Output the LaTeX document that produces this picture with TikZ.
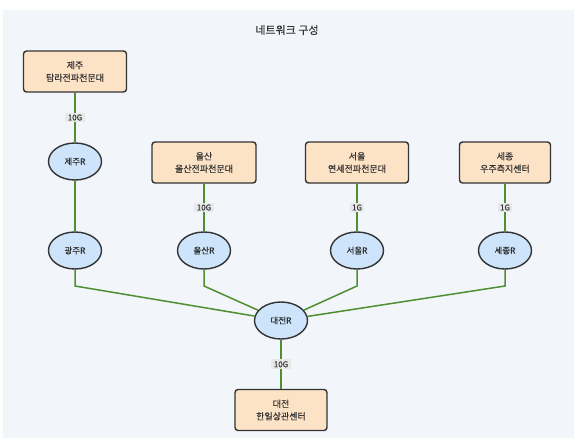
\documentclass[tikz,border=0pt]{standalone}
\usepackage{fontspec}
\newfontfamily\krfont[FakeBold=0.4]{Noto Sans CJK KR}
\usepackage{tikz}
\usetikzlibrary{positioning,shapes.geometric}

\definecolor{bgcol}{HTML}{F2F5F9}
\definecolor{sitecol}{HTML}{FCE3C6}
\definecolor{routercol}{HTML}{CDE4FA}
\definecolor{linkcol}{HTML}{4F8F32}
\definecolor{inkcol}{HTML}{333333}

\tikzset{
  site/.style={rectangle,rounded corners=3pt,draw=inkcol,line width=1.4pt,fill=sitecol,
    minimum height=41pt,inner sep=0pt,align=center,font=\krfont\fontsize{9}{12.5}\selectfont,text=inkcol},
  router/.style={ellipse,draw=inkcol,line width=1.4pt,fill=routercol,minimum width=53pt,
    minimum height=37pt,inner sep=0pt,font=\krfont\fontsize{8.5}{10}\selectfont,text=inkcol},
  link/.style={draw=linkcol,line width=1.5pt},
  speed/.style={fill=black!9,inner xsep=2.5pt,inner ysep=1.8pt,font=\krfont\fontsize{8}{9}\selectfont,text=inkcol}
}

\begin{document}
\begin{tikzpicture}[x=1pt,y=-1pt]
\useasboundingbox (0,0) rectangle (578,447);
\fill[bgcol] (3,10) rectangle (574,438);
\node[font=\krfont\fontsize{11}{13}\selectfont,text=inkcol] (title) at (287,30) {네트워크 구성};

% observatories
\foreach \pos/\name/\boxw/\disp in {{(75,71.5)/jeju/103/{제주\\탐라전파천문대}}, {(204,162.5)/ulsan/104/{울산\\울산전파천문대}},
  {(357,162.5)/seoul/103/{서울\\연세전파천문대}}, {(505,162.5)/sejong/91/{세종\\우주측지센터}},
  {(281,410)/daejeon/92/{대전\\한일상관센터}}}
\node[site,minimum width=\boxw pt] (\name) at \pos {\disp};

% routers
\foreach \pos/\name/\disp in {{(75,161.5)/jejuR/제주R}, {(75,250.5)/gwangjuR/광주R}, {(204,250.5)/ulsanR/울산R},
  {(357,250.5)/seoulR/서울R}, {(505,250.5)/sejongR/세종R}, {(281,320.5)/daejeonR/대전R}}
\node[router] (\name) at \pos {\disp};

% links with bandwidth
\foreach \source/\dest/\bw in {jeju/jejuR/10G, ulsan/ulsanR/10G, seoul/seoulR/1G, sejong/sejongR/1G, daejeonR/daejeon/10G}
\path[link] (\source) -- node[speed] {\bw} (\dest);
\path[link] (jejuR) -- (gwangjuR);

% uplinks to the hub
\coordinate (bend) at (0,286);
\foreach \source in {gwangjuR, ulsanR, seoulR, sejongR}
\path[link] (\source) -- (\source |- bend) -- (daejeonR);

\end{tikzpicture}
\end{document}
